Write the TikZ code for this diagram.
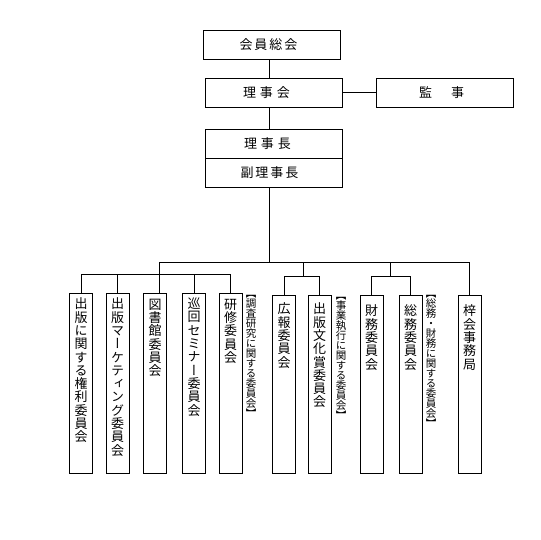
\documentclass[tikz,border=0pt]{standalone}
\usepackage{fontspec}
\newfontfamily\jp{Noto Sans CJK JP}
\newfontfamily\jpv[RawFeature=+vert]{Noto Sans CJK JP}
\begin{document}
\begin{tikzpicture}[x=1pt,y=-1pt,line width=0.9pt,
  tbox/.style={draw,inner sep=0pt,minimum width=137pt,minimum height=29pt},
  lvbox/.style={draw,inner sep=0pt,minimum width=23pt,minimum height=180pt},
  rvbox/.style={draw,inner sep=0pt,minimum width=23pt,minimum height=178pt},
  lbl/.style={inner sep=0pt,font=\jp\fontsize{13}{14}\selectfont},
  vt/.style={inner sep=0pt,anchor=north,align=center,font=\jpv\fontsize{13}{13.3}\selectfont},
  bt/.style={inner sep=0pt,anchor=north,align=center,font=\jpv\fontsize{10.5}{10}\selectfont}]
\fill[white] (0,0) rectangle (540,540);
\useasboundingbox (0,0) rectangle (540,540);
% top boxes
\node[tbox] (kaiin) at (272,44.5) {};
\node[lbl] (kaiinT) at ([xshift=-3.5pt]kaiin.center) {会\hspace{2pt}員\hspace{2pt}総\hspace{2pt}会};
\node[tbox] (rijikai) at (273.5,92.5) {};
\node[lbl] (rijikaiT) at ([xshift=-7pt]rijikai.center) {理\hspace{4pt}事\hspace{4pt}会};
\node[tbox] (kanji) at (444.5,92.5) {};
\node[lbl] (kanjiT) at ([xshift=-3pt]kanji.center) {監\hspace{19pt}事};
\node[tbox] (richo) at (273.5,143.5) {};
\node[lbl] (richoT) at ([xshift=-6pt]richo.center) {理\hspace{4pt}事\hspace{4pt}長};
\node[tbox] (fuku) at (273.5,172.5) {};
\node[lbl] (fukuT) at ([xshift=-4pt]fuku.center) {副\hspace{2pt}理\hspace{2pt}事\hspace{2pt}長};
% bottom boxes
\node[lvbox] (b1) at (81,383) {};
\node[lvbox] (b2) at (117.5,383) {};
\node[lvbox] (b3) at (155,383) {};
\node[lvbox] (b4) at (194,383) {};
\node[lvbox] (b5) at (230.5,383) {};
\node[rvbox] (b6) at (284,384) {};
\node[rvbox] (b7) at (319.5,384) {};
\node[rvbox] (b8) at (371.5,384) {};
\node[rvbox] (b9) at (410.5,384) {};
\node[rvbox] (b10) at (469.5,384) {};
\node[vt] (t1) at ([yshift=-5pt]b1.north) {出\\版\\に\\関\\す\\る\\権\\利\\委\\員\\会};
\node[vt] (t2) at ([yshift=-5pt]b2.north) {出\\版\\マ\\ー\\ケ\\テ\\ィ\\ン\\グ\\委\\員\\会};
\node[vt] (t3) at ([yshift=-6pt]b3.north) {図\\書\\館\\委\\員\\会};
\node[vt] (t4) at ([yshift=-5pt]b4.north) {巡\\回\\セ\\ミ\\ナ\\ー\\委\\員\\会};
\node[vt] (t5) at ([yshift=-6pt]b5.north) {研\\修\\委\\員\\会};
\node[vt] (t6) at ([yshift=-8pt]b6.north) {広\\報\\委\\員\\会};
\node[vt] (t7) at ([yshift=-8pt]b7.north) {出\\版\\文\\化\\賞\\委\\員\\会};
\node[vt] (t8) at ([yshift=-10pt]b8.north) {財\\務\\委\\員\\会};
\node[vt] (t9) at ([yshift=-10pt]b9.north) {総\\務\\委\\員\\会};
\node[vt] (t10) at ([yshift=-10pt]b10.north) {梓\\会\\事\\務\\局};
\node[bt] (k1) at (251,295) {【\\調\\査\\研\\究\\に\\関\\す\\る\\委\\員\\会\\】};
\node[bt] (k2) at (341,297) {【\\事\\業\\執\\行\\に\\関\\す\\る\\委\\員\\会\\】};
\node[bt] (k3) at (431,295) {【\\総\\務\\・\\財\\務\\に\\関\\す\\る\\委\\員\\会\\】};
% connectors
\coordinate (tr) at (269,0);
\coordinate (j) at (269,262);
\coordinate (bar1) at (159,262);
\coordinate (bar2) at (303,262);
\coordinate (bar3) at (390,262);
\coordinate (s1) at (159,274);
\coordinate (s2) at (303,276);
\coordinate (s3) at (390,276);
\draw (kaiin.south -| tr) -- (rijikai.north -| tr);
\draw (rijikai.south -| tr) -- (richo.north -| tr);
\draw (rijikai.east) -- (kanji.west);
\draw (fuku.south -| tr) -- (j);
\draw (bar1) -- (b10.north |- bar1) -- (b10.north);
\draw (bar1) -- (b3.north -| bar1);
\draw (b1.north) -- (b1.north |- s1) -- (b5.north |- s1) -- (b5.north);
\draw (b2.north) -- (b2.north |- s1);
\draw (b4.north) -- (b4.north |- s1);
\draw (bar2) -- (s2);
\draw (b6.north) -- (b6.north |- s2) -- (b7.north |- s2) -- (b7.north);
\draw (bar3) -- (s3);
\draw (b8.north) -- (b8.north |- s3) -- (b9.north |- s3) -- (b9.north);
\end{tikzpicture}
\end{document}
